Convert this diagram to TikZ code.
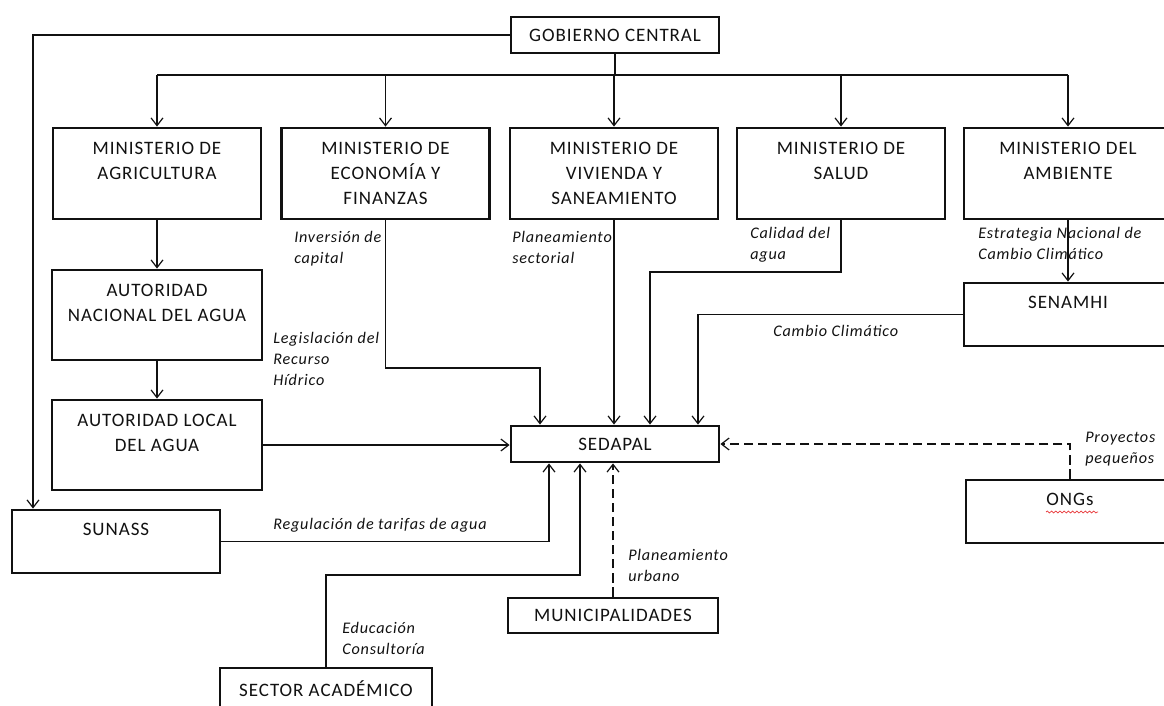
\documentclass[tikz,border=0pt]{standalone}
\usepackage{fontspec}
\setmainfont{Carlito}[LetterSpace=5]
\usepackage{xcolor}
\usetikzlibrary{arrows.meta,positioning,decorations.pathmorphing}
\definecolor{Ink}{HTML}{111111}
\definecolor{Squiggle}{HTML}{E8383A}
\newcommand\orgfont{\fontsize{13.5}{17.8}\selectfont}
\newcommand\linkfont{\fontsize{11.5}{15}\selectfont\itshape}
\tikzset{
  box/.style={draw=Ink,line width=2pt,fill=white,align=center,font=\orgfont,text=Ink,inner sep=0pt},
  ministry/.style={box,minimum width=5.2cm,minimum height=2.275cm},
  tallbox/.style={box,minimum width=5.25cm,minimum height=2.25cm},
  wide/.style={box,minimum width=5.2cm,minimum height=1.575cm},
  slim/.style={box,minimum width=5.2cm,minimum height=0.9cm},
  note/.style={anchor=north west,align=left,font=\linkfont,text=Ink,inner sep=0pt},
  line/.style={draw=Ink,line width=0.85pt},
  link/.style={line,-{Straight Barb[length=5.5pt,width=8.5pt,line width=0.85pt]}},
  soft/.style={dash pattern=on 6.5pt off 3.5pt}
}

\begin{document}
\begin{tikzpicture}[x=0.025cm,y=-0.025cm]
  \useasboundingbox (0,0) rectangle (1164,705);
  \clip (0,0) rectangle (1164,705);

  % top level and ministries
  \node[slim] (gob) at (615,35) {GOBIERNO CENTRAL};
  \node[ministry] (agri) at (157,173.5) {MINISTERIO DE\\AGRICULTURA\\~};
  \node[ministry] (econ) at (385.5,173.5) {MINISTERIO DE\\ECONOMÍA Y\\FINANZAS};
  \node[ministry] (viv) at (614,173.5) {MINISTERIO DE\\VIVIENDA Y\\SANEAMIENTO};
  \node[ministry] (salud) at (841,173.5) {MINISTERIO DE\\SALUD\\~};
  \node[ministry] (amb) at (1068,173.5) {MINISTERIO DEL\\AMBIENTE\\~};

  % water authorities and agencies
  \node[tallbox] (ana) at (157,315) {AUTORIDAD\\NACIONAL DEL AGUA\\~};
  \node[tallbox] (ala) at (157,445) {AUTORIDAD LOCAL\\DEL AGUA\\~};
  \node[wide] (senamhi) at (1068,314.5) {SENAMHI\\~};
  \node[wide] (sunass) at (116,541.5) {SUNASS\\~};
  \node[wide] (ongs) at (1070,511.5) {ONGs\\~};

  % operator and local actors
  \node[slim] (sedapal) at (615,444) {SEDAPAL};
  \node[slim,minimum width=5.25cm,minimum height=0.875cm] (muni) at (613,615.5) {MUNICIPALIDADES};
  \node[slim,minimum width=5.3cm,minimum height=1.05cm] (sector) at (326,689) {SECTOR ACADÉMICO};

  % spell-check squiggle under ONGs
  \draw[Squiggle,line width=0.5pt,decorate,decoration={snake,amplitude=0.7pt,segment length=3pt}]
    (1046,512) -- (1098,512);

  % central government links
  \coordinate (bus) at (gob.south |- 0,75);
  \draw[line] (gob.south) -- (bus);
  \draw[line] (agri.north |- bus) -- (amb.north |- bus);
  \foreach \m in {agri,econ,viv,salud,amb}
    \draw[link] (\m.north |- bus) -- (\m.north);
  \draw[link] (gob.west) -| (sunass.north -| 33,0);

  \draw[link] (agri) -- (ana);
  \draw[link] (ana) -- (ala);
  \draw[link] (amb) -- (senamhi);

  % flows into SEDAPAL
  \draw[link] (ala.east) -- (ala.east -| sedapal.west);
  \draw[link] (econ.south) |- (540,368) -- (sedapal.north -| 540,0);
  \draw[link] (viv.south) -- (sedapal.north -| viv.south);
  \draw[link] (salud.south) |- (650,272) -- (sedapal.north -| 650,0);
  \draw[link] (senamhi.west) -| (sedapal.north -| 698,0);
  \draw[link,soft] (ongs.north) |- (sedapal.east);
  \draw[link] (sunass.east) -| (sedapal.south -| 549,0);
  \draw[link] (sector.north) |- (580,575) -- (sedapal.south -| 580,0);
  \draw[link,soft] (muni.north) -- (sedapal.south -| muni.north);

  % labels on the flows
  \node[note] (inv) at (294,231) {Inversión de\\capital};
  \node[note] (plsec) at (512,231) {Planeamiento\\sectorial};
  \node[note] (cal) at (750,227) {Calidad del\\agua};
  \node[note] (enc) at (978,227) {Estrategia Nacional de\\Cambio Climático};
  \node[note] (leg) at (273,332) {Legislación del\\Recurso\\Hídrico};
  \node[note] (cc) at (773,325) {Cambio Climático};
  \node[note] (proy) at (1085,432) {Proyectos\\pequeños};
  \node[note] (reg) at (273,518) {Regulación de tarifas de agua};
  \node[note] (plurb) at (628,549) {Planeamiento\\urbano};
  \node[note] (edu) at (342,622) {Educación\\Consultoría};
\end{tikzpicture}
\end{document}
